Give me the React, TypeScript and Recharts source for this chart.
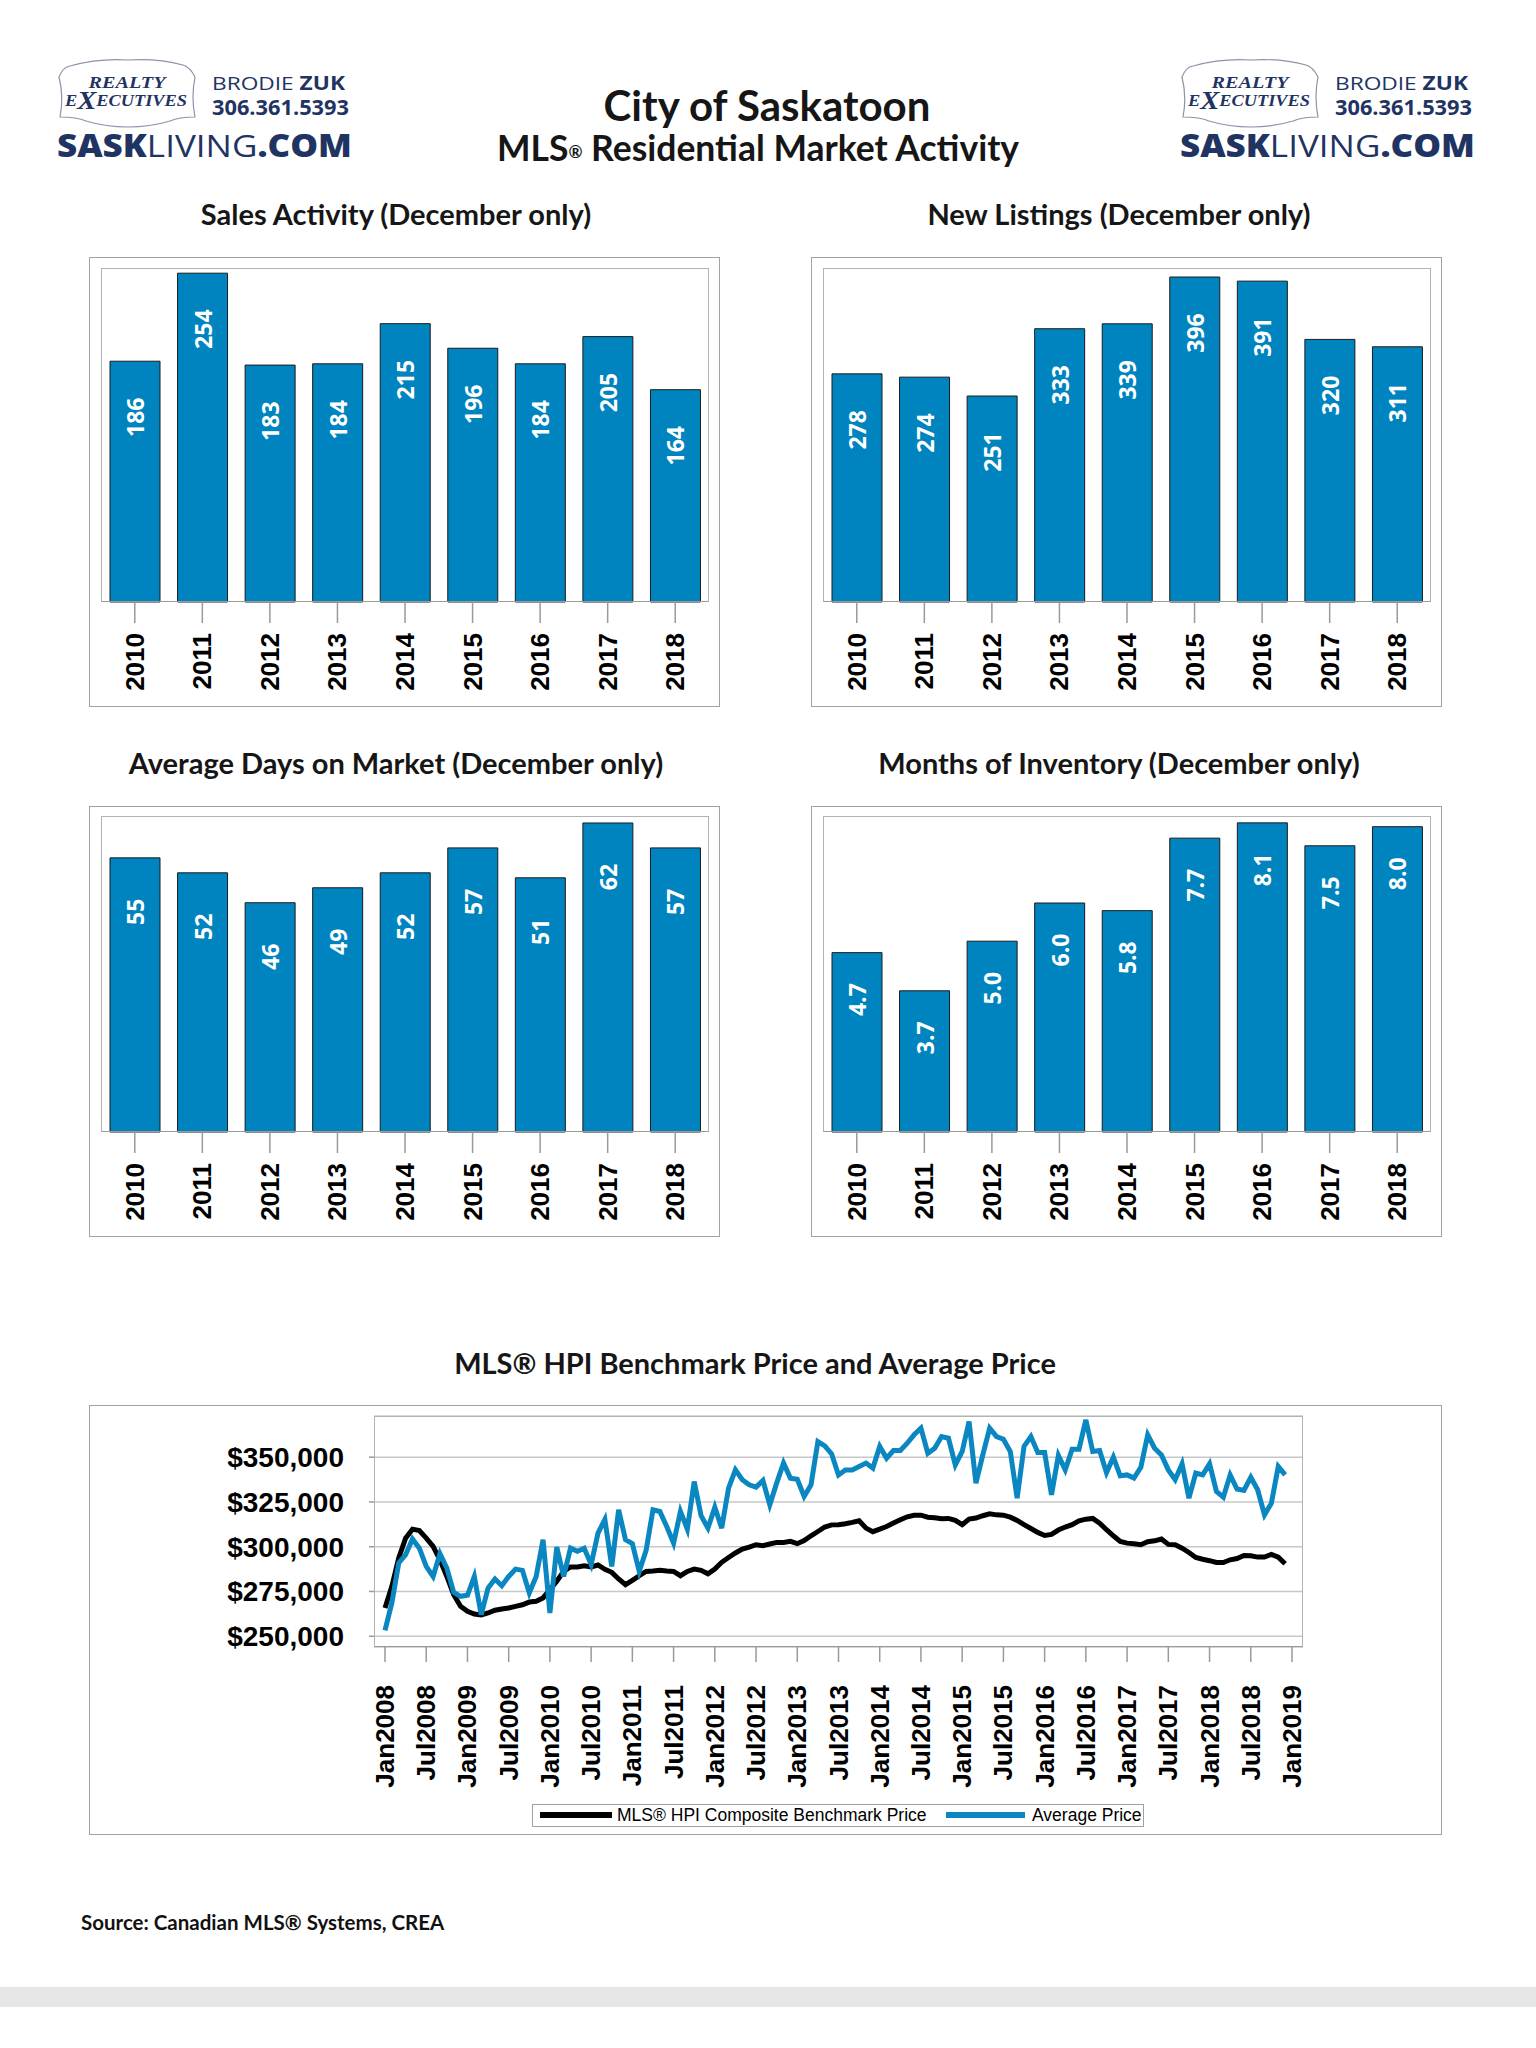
import React from "react";
import {
  Bar,
  BarChart,
  CartesianGrid,
  LabelList,
  Line,
  LineChart,
  XAxis,
  YAxis,
} from "recharts";

const NAVY = "#1f3462";
const BAR_BLUE = "#0084bf";
const LINE_BLUE = "#0a87c0";
const OUTER = "#a3a3a3";
const FRAME = "#b3b3b3";
const TITLE_FONT = "Lato, 'Open Sans', sans-serif";
const AXIS_FONT = "'Liberation Sans', Arial, sans-serif";

const years = ["2010", "2011", "2012", "2013", "2014", "2015", "2016", "2017", "2018"];
const salesActivity = [186, 254, 183, 184, 215, 196, 184, 205, 164];
const newListings = [278, 274, 251, 333, 339, 396, 391, 320, 311];
const daysOnMarket = [55, 52, 46, 49, 52, 57, 51, 62, 57];
const monthsOfInventory = [4.7, 3.7, 5.0, 6.0, 5.8, 7.7, 8.1, 7.5, 8.0];

// monthly, Jan 2008 .. Dec 2018
const hpiBenchmark = [
  265800, 277900, 293700, 304800, 309800, 309000, 304800, 300200, 292700, 283400, 273200, 266700,
  263900, 262400, 261900, 263000, 264500, 265200, 265800, 266700, 267600, 269100, 269500, 271400,
  276000, 280700, 286200, 288700, 288700, 289400, 288700, 289800, 287400, 285700, 282000, 278800,
  281200, 283800, 286200, 286400, 286800, 286400, 286200, 283800, 286200, 287500, 286800, 284900,
  287500, 291300, 294000, 296500, 298700, 299800, 301100, 300600, 301500, 302400, 302400, 303000,
  301700, 303500, 306100, 308500, 311000, 312200, 312300, 312800, 313600, 314500, 310400, 308400,
  309800, 311300, 313200, 315000, 316700, 317600, 317600, 316500, 316200, 315600, 315800, 314700,
  312300, 315400, 316000, 317300, 318400, 317800, 317600, 316500, 314700, 312300, 310200, 308000,
  306300, 306900, 309300, 311000, 312300, 314500, 315400, 315800, 313200, 309500, 306100, 303000,
  302000, 301700, 301100, 302800, 303300, 304300, 301300, 301100, 299200, 296800, 294000, 293000,
  292200, 291200, 291200, 292700, 293400, 295100, 294900, 294200, 294200, 295700, 294200, 290500,
];
const averagePrice = [
  253300, 268600, 290900, 295500, 304300, 299200, 289000, 283400, 296100, 288100, 274500, 272300,
  272900, 283400, 262100, 276900, 282000, 278200, 283400, 287500, 286800, 274200, 283400, 303900,
  263000, 299800, 283400, 299200, 297400, 299100, 290000, 307600, 315200, 289000, 320600, 303900,
  301700, 286200, 298000, 320600, 319700, 311300, 302000, 319700, 309800, 336400, 317300, 310400,
  322100, 310400, 332700, 342900, 337400, 334600, 333300, 337000, 323400, 335500, 346700, 338300,
  337700, 328100, 334600, 358700, 356300, 351800, 340100, 342900, 342900, 344800, 346700, 343900,
  356000, 349400, 353700, 353700, 357800, 362500, 366200, 352200, 355000, 361500, 360600, 345700,
  353200, 369900, 335500, 351300, 366200, 361500, 360000, 353200, 327100, 356000, 361500, 352600,
  352600, 329000, 351000, 342900, 354500, 354500, 370800, 353200, 353700, 341400, 350000, 339600,
  340100, 338300, 344400, 362500, 355000, 351300, 342900, 337400, 346300, 327100, 341100, 340100,
  346300, 330900, 327700, 340100, 332200, 331400, 338800, 331800, 317800, 324300, 344800, 340100,
];
const monthTickLabels = [
  "Jan2008", "Jul2008", "Jan2009", "Jul2009", "Jan2010", "Jul2010", "Jan2011", "Jul2011",
  "Jan2012", "Jul2012", "Jan2013", "Jul2013", "Jan2014", "Jul2014", "Jan2015", "Jul2015",
  "Jan2016", "Jul2016", "Jan2017", "Jul2017", "Jan2018", "Jul2018", "Jan2019",
];
const monthTickIndex = [
  0, 6, 12, 18, 24, 30, 36, 42, 48, 54, 60, 66, 72, 78, 84, 90, 96, 102, 108, 114, 120, 126, 132,
];
const priceTicks = [250000, 275000, 300000, 325000, 350000];

const priceData = hpiBenchmark.map((v, i) => ({ month: i, hpi: v, avg: averagePrice[i] }));

function centered(cx: number, cy: number, size: number): React.CSSProperties {
  return {
    position: "absolute",
    left: cx - 450,
    width: 900,
    top: cy - size * 0.55,
    lineHeight: `${size}px`,
    fontSize: size,
    fontFamily: TITLE_FONT,
    fontWeight: 700,
    color: "#161616",
    textAlign: "center",
    whiteSpace: "nowrap",
  };
}

function Brand({ left }: { left: number }) {
  const serif = "'Liberation Serif', 'DejaVu Serif', serif";
  const sans = "'Open Sans', 'Noto Sans', sans-serif";
  return (
    <svg style={{ position: "absolute", left, top: 55 }} width={300} height={112}>
      <path
        d="M2,22 Q6,12 13,11 Q42,3 71,5 Q100,3 126,10 Q133,12 138,22 Q134,42 138,62 Q122,62 113,66 Q93,72 71,72 Q49,72 29,66 Q20,62 3,62 Q7,42 2,22 Z"
        fill="#fff"
        stroke="#8b93a6"
        strokeWidth={1.2}
      />
      <text x={70} y={33} textAnchor="middle" fontFamily={serif} fontStyle="italic" fontWeight={700}
        fontSize={16} fill={NAVY} textLength={77} lengthAdjust="spacingAndGlyphs">REALTY</text>
      <text x={69} y={51} textAnchor="middle" fontFamily={serif} fontStyle="italic" fontWeight={700}
        fontSize={16} fill={NAVY} textLength={122} lengthAdjust="spacingAndGlyphs">
        E<tspan fontSize={25} dy={3}>X</tspan><tspan dy={-3}>ECUTIVES</tspan>
      </text>
      <text x={155} y={35} fontFamily={sans} fontSize={19} fill={NAVY} textLength={133} lengthAdjust="spacingAndGlyphs">
        <tspan fontWeight={400}>BRODIE </tspan><tspan fontWeight={700}>ZUK</tspan>
      </text>
      <text x={155} y={60} fontFamily={sans} fontSize={21} fontWeight={700} fill={NAVY} textLength={137}
        lengthAdjust="spacingAndGlyphs">306.361.5393</text>
      <text x={0} y={102} fontFamily={sans} fontSize={31} fill={NAVY} textLength={295} lengthAdjust="spacingAndGlyphs">
        <tspan fontWeight={800}>SASK</tspan><tspan fontWeight={400}>LIVING</tspan><tspan fontWeight={800}>.COM</tspan>
      </text>
    </svg>
  );
}

const YearTick = (props: any) => {
  const { x, y, payload } = props;
  return (
    <text x={x} y={y} transform={`rotate(-90 ${x} ${y})`} textAnchor="end" dominantBaseline="central"
      fontFamily={AXIS_FONT} fontWeight={700} fontSize={26} fill="#000">
      {payload.value}
    </text>
  );
};

const MonthTick = (props: any) => {
  const { x, y, payload } = props;
  const label = monthTickLabels[monthTickIndex.indexOf(payload.value)];
  return (
    <text x={x} y={y} transform={`rotate(-90 ${x} ${y})`} textAnchor="end" dominantBaseline="central"
      fontFamily={AXIS_FONT} fontWeight={700} fontSize={26} fill="#000">
      {label}
    </text>
  );
};

interface BarPanelProps {
  title: string;
  values: number[];
  max: number;
  digits: number;
  left: number;
  top: number;
  height: number;
  plotTop: number;
  labelOffset: number;
  titleCx: number;
  titleCy: number;
}

function BarPanel({ title, values, max, digits, left, top, height, plotTop, labelOffset, titleCx, titleCy }: BarPanelProps) {
  const data = years.map((year, i) => ({ year, value: values[i] }));
  const width = 631;
  const axisHeight = 105;
  const plotLeft = 12;
  const plotWidth = 608;
  const plotHeight = height - plotTop - axisHeight;

  const renderLabel = (p: any) => {
    const cx = Number(p.x) + Number(p.width) / 2;
    const cy = Number(p.y) + labelOffset;
    return (
      <text x={cx} y={cy} transform={`rotate(-90 ${cx} ${cy})`} textAnchor="middle" dominantBaseline="central"
        fill="#fff" fontFamily="'Open Sans', Lato, sans-serif" fontWeight={700} fontSize={23}>
        {Number(p.value).toFixed(digits)}
      </text>
    );
  };

  return (
    <>
      <div style={centered(titleCx, titleCy, 29)}>{title}</div>
      <div style={{ position: "absolute", left, top, width, height, boxSizing: "border-box", border: `1.5px solid ${OUTER}` }} />
      <div style={{ position: "absolute", left, top, width, height }}>
        <BarChart width={width} height={height} data={data} barSize={50}
          margin={{ top: plotTop, right: width - plotLeft - plotWidth, bottom: 0, left: plotLeft }}>
          <XAxis dataKey="year" height={axisHeight} interval={0} axisLine={false}
            tickLine={{ stroke: "#9a9a9a", strokeWidth: 1.5 }} tickSize={21} tickMargin={10} tick={YearTick} />
          <YAxis hide domain={[0, max]} />
          <Bar dataKey="value" fill={BAR_BLUE} stroke="#1b1b1b" strokeWidth={1} isAnimationActive={false}>
            <LabelList dataKey="value" content={renderLabel} />
          </Bar>
        </BarChart>
      </div>
      <div style={{
        position: "absolute", left: left + plotLeft, top: top + plotTop, width: plotWidth, height: plotHeight,
        boxSizing: "border-box", border: `1.5px solid ${FRAME}`, borderBottomColor: "#9a9a9a",
      }} />
    </>
  );
}

function PricePanel() {
  const left = 89;
  const top = 1405;
  const width = 1353;
  const height = 430;
  const yAxisWidth = 285;
  const marginRight = 139;
  const marginTop = 11;
  const xAxisHeight = 188;
  const money = (v: number) => `$${v.toLocaleString("en-US")}`;

  return (
    <>
      <div style={centered(755, 1364, 29)}>MLS® HPI Benchmark Price and Average Price</div>
      <div style={{ position: "absolute", left, top, width, height, boxSizing: "border-box", border: `1.5px solid ${OUTER}` }} />
      <div style={{ position: "absolute", left, top, width, height }}>
        <LineChart width={width} height={height} data={priceData}
          margin={{ top: marginTop, right: marginRight, bottom: 0, left: 0 }}>
          <CartesianGrid vertical={false} stroke="#c8c8c8" strokeWidth={1.5} />
          <XAxis dataKey="month" type="number" domain={[-1.6, 133.6]} ticks={monthTickIndex} interval={0}
            height={xAxisHeight} axisLine={false} tickLine={{ stroke: "#9a9a9a", strokeWidth: 1.5 }}
            tickSize={15} tickMargin={23} tick={MonthTick} />
          <YAxis type="number" domain={[244000, 373000]} ticks={priceTicks} width={yAxisWidth} interval={0}
            axisLine={false} tickLine={{ stroke: "#9a9a9a", strokeWidth: 1.5 }} tickSize={5} tickMargin={25}
            tickFormatter={money}
            tick={{ fill: "#000", fontFamily: AXIS_FONT, fontWeight: 700, fontSize: 28 }} />
          <Line type="linear" dataKey="hpi" stroke="#000" strokeWidth={5} dot={false} isAnimationActive={false} />
          <Line type="linear" dataKey="avg" stroke={LINE_BLUE} strokeWidth={5} dot={false} isAnimationActive={false} />
        </LineChart>
      </div>
      <div style={{
        position: "absolute", left: left + yAxisWidth, top: top + marginTop,
        width: width - yAxisWidth - marginRight, height: height - marginTop - xAxisHeight,
        boxSizing: "border-box", border: `1.5px solid ${FRAME}`, borderBottomColor: "#9a9a9a",
      }} />
      {/* legend */}
      <div style={{ position: "absolute", left: 532, top: 1804, width: 612, height: 23, boxSizing: "border-box", border: "1px solid #a0a0a0" }} />
      <div style={{ position: "absolute", left: 540, top: 1812, width: 72, height: 6, background: "#000" }} />
      <div style={{ position: "absolute", left: 617, top: 1804, lineHeight: "23px", fontSize: 17.5, fontFamily: AXIS_FONT, color: "#000", whiteSpace: "nowrap" }}>
        MLS® HPI Composite Benchmark Price
      </div>
      <div style={{ position: "absolute", left: 946, top: 1812, width: 79, height: 6, background: LINE_BLUE }} />
      <div style={{ position: "absolute", left: 1032, top: 1804, lineHeight: "23px", fontSize: 17.5, fontFamily: AXIS_FONT, color: "#000", whiteSpace: "nowrap" }}>
        Average Price
      </div>
    </>
  );
}

export default function App() {
  return (
    <div style={{ position: "relative", width: 1536, height: 2048, background: "#fff", overflow: "hidden" }}>
      <style>{"body{margin:0;}"}</style>
      <Brand left={57} />
      <Brand left={1180} />
      <div style={centered(767, 107, 42)}>City of Saskatoon</div>
      <div style={centered(758, 150, 35.5)}>
        MLS<span style={{ fontSize: 17, verticalAlign: "3px" }}>®</span> Residential Market Activity
      </div>

      <BarPanel title="Sales Activity (December only)" values={salesActivity} max={258} digits={0}
        left={89} top={257} height={450} plotTop={11} labelOffset={56} titleCx={396} titleCy={215} />
      <BarPanel title="New Listings (December only)" values={newListings} max={407} digits={0}
        left={811} top={257} height={450} plotTop={11} labelOffset={56} titleCx={1119} titleCy={215} />
      <BarPanel title="Average Days on Market (December only)" values={daysOnMarket} max={63.4} digits={0}
        left={89} top={806} height={431} plotTop={10} labelOffset={54} titleCx={396} titleCy={764} />
      <BarPanel title="Months of Inventory (December only)" values={monthsOfInventory} max={8.28} digits={1}
        left={811} top={806} height={431} plotTop={10} labelOffset={47} titleCx={1119} titleCy={764} />

      <PricePanel />

      <div style={{ position: "absolute", left: 81, top: 1911, fontSize: 20.5, lineHeight: "22px", fontFamily: TITLE_FONT, fontWeight: 700, color: "#111" }}>
        Source: Canadian MLS® Systems, CREA
      </div>
      <div style={{ position: "absolute", left: 0, top: 1987, width: 1536, height: 20, background: "#e6e6e6" }} />
    </div>
  );
}
